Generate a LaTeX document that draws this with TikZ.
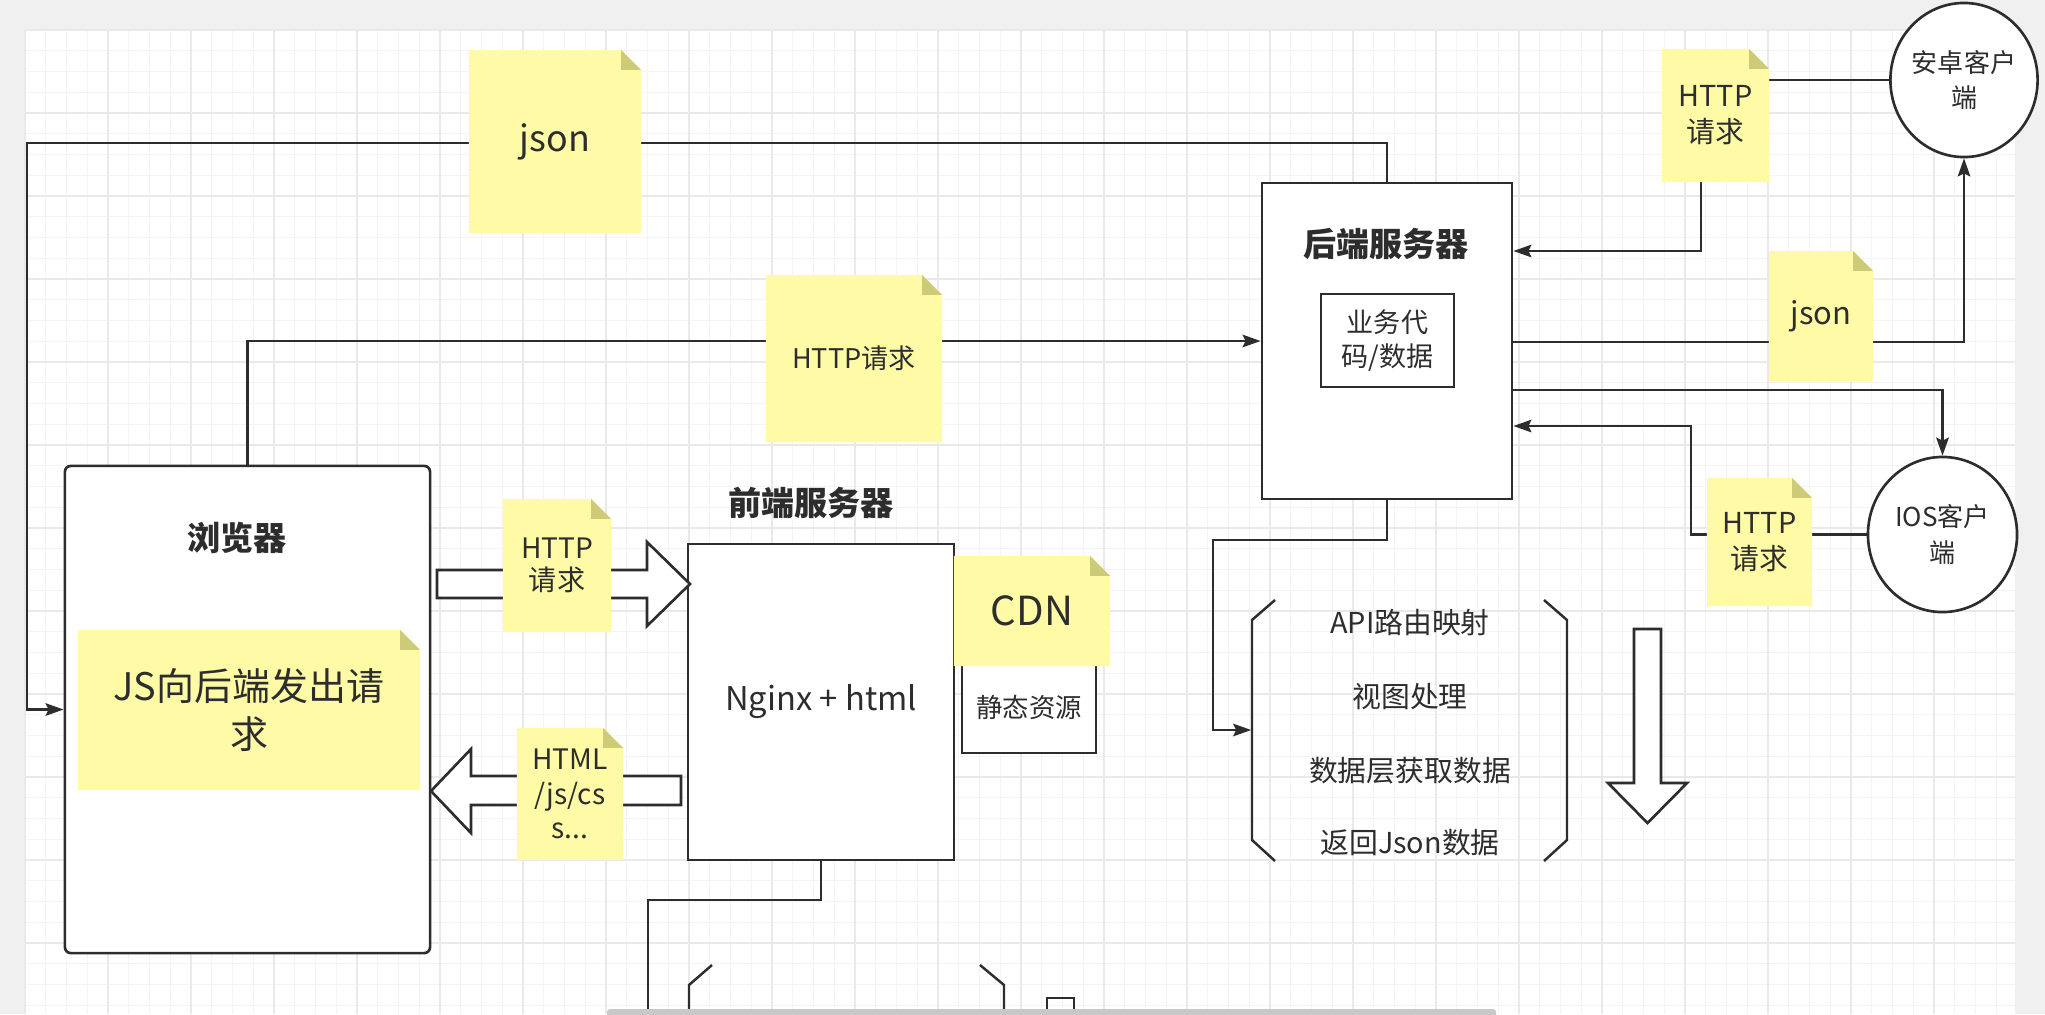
\documentclass[tikz,border=0pt]{standalone}
\usepackage{fontspec}
\setmainfont{Noto Sans CJK SC}
\usetikzlibrary{arrows.meta,shapes.geometric}
\definecolor{linegray}{RGB}{45,45,45}
\definecolor{txtgray}{RGB}{45,45,45}
\definecolor{notey}{RGB}{255,250,165}
\definecolor{notefold}{RGB}{205,202,120}
\definecolor{outer}{RGB}{240,240,240}
\definecolor{gridmin}{RGB}{244,244,244}
\definecolor{gridmaj}{RGB}{233,233,233}
\definecolor{scrollbar}{RGB}{200,200,200}
\tikzset{box/.style={draw=linegray,line width=0.75pt,fill=white,inner sep=0pt,text=txtgray,align=center},
	client/.style={ellipse,draw=linegray,line width=0.75pt,fill=white,inner sep=0pt,align=center,
		text=txtgray,font=\fontsize{7.4}{10}\selectfont},
	boxtitle/.style={font=\bfseries\fontsize{9.4}{11}\selectfont,text=txtgray},
	txt/.style={align=center,text=txtgray,font=\fontsize{8.2}{10}\selectfont},
	note/.style={inner sep=0pt,align=center,text=txtgray,
		path picture={
			\fill[notey] (path picture bounding box.south west) -- (path picture bounding box.north west)
			-- ([xshift=-2mm]path picture bounding box.north east) -- ([yshift=-2mm]path picture bounding box.north east)
			-- (path picture bounding box.south east) -- cycle;
			\fill[notefold] ([xshift=-2mm]path picture bounding box.north east) -- ([xshift=-2mm,yshift=-2mm]path picture bounding box.north east)
			-- ([yshift=-2mm]path picture bounding box.north east) -- cycle;}},
	conn/.style={draw=linegray,line width=0.7pt,-{Stealth[length=1.8mm,width=1.25mm,inset=0.3mm]}},
	wire/.style={draw=linegray,line width=0.7pt},
	blockarrow/.style={draw=linegray,line width=0.75pt,fill=white,line join=miter}}

\begin{document}
\begin{tikzpicture}[x=0.01cm,y=-0.01cm]
  \useasboundingbox (0,0) rectangle (2045,1014);
  \fill[outer] (0,0) rectangle (2045,1014);
  \fill[white] (25,30) rectangle (2015,1014);
  \foreach \i in {0,...,95}
    \draw[gridmin,line width=0.3pt] ({25+20.75*\i},30) -- ({25+20.75*\i},1014);
  \foreach \j in {0,...,47}
    \draw[gridmin,line width=0.3pt] (25,{30+20.75*\j}) -- (2015,{30+20.75*\j});
  \foreach \i in {0,4,...,92}
    \draw[gridmaj,line width=0.3pt] ({25+20.75*\i},30) -- ({25+20.75*\i},1014);
  \foreach \j in {0,4,...,44}
    \draw[gridmaj,line width=0.3pt] (25,{30+20.75*\j}) -- (2015,{30+20.75*\j});

  \node[box,minimum width=3.65cm,minimum height=4.87cm,rounded corners=0.6mm] (browser) at (247.5,709.5) {};
  \node[boxtitle] (browsertitle) at (237,538) {浏览器};
  \node[box,minimum width=2.66cm,minimum height=3.16cm,font=\fontsize{9.3}{11}\selectfont] (front) at (821,702) {Nginx + html};
  \node[boxtitle] (fronttitle) at (811,503) {前端服务器};
  \node[box,minimum width=1.34cm,minimum height=0.92cm,font=\fontsize{7.5}{9}\selectfont] (static) at (1029,707) {静态资源};
  \node[box,minimum width=2.5cm,minimum height=3.16cm] (back) at (1387,341) {};
  \node[boxtitle] (backtitle) at (1386,244) {后端服务器};
  \node[box,minimum width=1.33cm,minimum height=0.93cm,font=\fontsize{7.7}{9.4}\selectfont] (logic) at (1387.5,340.5) {业务代\\码/数据};
  \node[client,minimum width=1.46cm,minimum height=1.54cm] (android) at (1964,80) {安卓客户\\端};
  \node[client,minimum width=1.49cm,minimum height=1.55cm] (ios) at (1942.5,534.5) {IOS客户\\端};
  \node[minimum width=3.15cm,minimum height=2.6cm] (routes) at (1409.5,730) {};
  \foreach \n/\y/\t in {api/623/API路由映射,view/697/视图处理,dao/771/数据层获取数据,ret/843/返回Json数据}
    \node[txt] (\n) at (1410,\y) {\t};
  \coordinate (offpage) at (648,1014);

  \draw[conn] (back.north) |- (27,143) |- (browser.west);
  \draw[conn] (browser.north) |- (back.west);
  \draw[conn] (android.west) -| (1701,251) -- (back.east |- 0,251);
  \draw[conn] (back.east |- 0,342) -| (android.south);
  \draw[conn] (back.east |- 0,390) -| (ios.north);
  \draw[conn] (ios.west) -| (1691,426) -- (back.east |- 0,426);
  \draw[conn] (back.south) |- (1213,540) |- (routes.west);
  \draw[wire] (front.south) |- (648,900) -- (offpage);

  \draw[blockarrow] (437,570) -- (647,570) -- (647,542) -- (690,584) -- (647,626) -- (647,598) -- (437,598) -- cycle;
  \draw[blockarrow] (681,776) -- (471,776) -- (471,749) -- (431,791) -- (471,833) -- (471,805) -- (681,805) -- cycle;
  \draw[blockarrow] (1634,629) -- (1661,629) -- (1661,783) -- (1687,783) -- (1647.5,823) -- (1608,783) -- (1634,783) -- cycle;
  \draw[wire] (1275,600) -- (1252,620) -- (1252,840) -- (1275,861);
  \draw[wire] (1544,600) -- (1567,620) -- (1567,840) -- (1544,861);
  \draw[wire] (712,965) -- (689,985) -- (689,1014);
  \draw[wire] (980,965) -- (1004,985) -- (1004,1014);
  \draw[wire] (1047,1014) -- (1047,998) -- (1074,998) -- (1074,1014);

  \node[note,minimum width=3.42cm,minimum height=1.6cm,font=\fontsize{10.8}{13.4}\selectfont] (jsnote) at (249,710) {JS向后端发出请\\求};
  \node[note,minimum width=1.56cm,minimum height=1.1cm,font=\fontsize{11.4}{13}\selectfont] (cdn) at (1032,611) {CDN};
  \node[note,minimum width=1.72cm,minimum height=1.83cm,font=\fontsize{10.2}{12}\selectfont] (jsonleft) at (555,141.5) {json};
  \node[note,minimum width=1.76cm,minimum height=1.67cm,font=\fontsize{7.7}{9.5}\selectfont] (httpmid) at (854,358.5) {HTTP请求};
  \node[note,minimum width=1.07cm,minimum height=1.33cm,font=\fontsize{8.2}{10.2}\selectfont] (httpand) at (1715.5,115.5) {HTTP\\请求};
  \node[note,minimum width=1.04cm,minimum height=1.3cm,font=\fontsize{8.8}{10}\selectfont] (jsonright) at (1821,316) {json};
  \node[note,minimum width=1.05cm,minimum height=1.28cm,font=\fontsize{8.2}{10.2}\selectfont] (httpios) at (1759.5,542) {HTTP\\请求};
  \node[note,minimum width=1.08cm,minimum height=1.33cm,font=\fontsize{8}{9.1}\selectfont] (httpfront) at (557,565.5) {HTTP\\请求};
  \node[note,minimum width=1.06cm,minimum height=1.32cm,font=\fontsize{8}{9.8}\selectfont] (htmlback) at (570,794) {HTML\\/js/cs\\s...};

  \fill[scrollbar,rounded corners=0.3mm] (607,1009) rectangle (1496,1018);
\end{tikzpicture}
\end{document}
